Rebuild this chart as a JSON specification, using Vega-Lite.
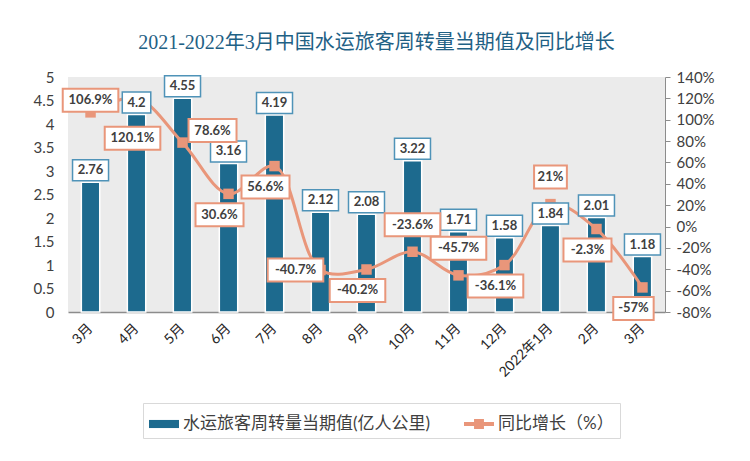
{
  "$schema": "https://vega.github.io/schema/vega-lite/v6.json",
  "width": 597,
  "height": 235,
  "autosize": {"type": "none"},
  "padding": {"left": 68, "top": 77, "right": 85, "bottom": 149},
  "background": "white",
  "title": {
    "text": "2021-2022年3月中国水运旅客周转量当期值及同比增长",
    "font": "Liberation Serif, Noto Sans CJK SC",
    "fontSize": 20,
    "fontWeight": "normal",
    "color": "#1F6185",
    "anchor": "middle",
    "dx": 10,
    "offset": 17
  },
  "data": {
    "values": [
      {"month": "2021年3月", "value": 2.76, "yoy": 106.9},
      {"month": "4月", "value": 4.2, "yoy": 120.1},
      {"month": "5月", "value": 4.55, "yoy": 78.6},
      {"month": "6月", "value": 3.16, "yoy": 30.6},
      {"month": "7月", "value": 4.19, "yoy": 56.6},
      {"month": "8月", "value": 2.12, "yoy": -40.7},
      {"month": "9月", "value": 2.08, "yoy": -40.2},
      {"month": "10月", "value": 3.22, "yoy": -23.6},
      {"month": "11月", "value": 1.71, "yoy": -45.7},
      {"month": "12月", "value": 1.58, "yoy": -36.1},
      {"month": "2022年1月", "value": 1.84, "yoy": 21},
      {"month": "2月", "value": 2.01, "yoy": -2.3},
      {"month": "3月", "value": 1.18, "yoy": -57}
    ]
  },
  "encoding": {
    "x": {
      "field": "month",
      "type": "nominal",
      "sort": null,
      "scale": {"paddingInner": 0.6, "paddingOuter": 0.29},
      "axis": {
        "title": null,
        "labelAngle": -45,
        "labelAlign": "right",
        "labelBaseline": "middle",
        "labelFontSize": 14,
        "labelColor": "#262626",
        "labelPadding": 14,
        "ticks": false,
        "domainColor": "#8c8c8c",
        "domainWidth": 1.5,
        "labelExpr": "datum.value == '2021年3月' ? '3月' : datum.value"
      }
    }
  },
  "layer": [
    {
      "mark": {"type": "bar", "stroke": "white", "strokeWidth": 1.5},
      "encoding": {
        "y": {
          "field": "value",
          "type": "quantitative",
          "scale": {"domain": [0, 5]},
          "axis": {
            "title": null,
            "values": [0, 0.5, 1, 1.5, 2, 2.5, 3, 3.5, 4, 4.5, 5],
            "format": "~g",
            "domain": false,
            "ticks": false,
            "grid": false,
            "labelFontSize": 15,
            "labelColor": "#404040",
            "labelPadding": 14
          }
        },
        "color": {
          "datum": "水运旅客周转量当期值(亿人公里)",
          "type": "nominal",
          "scale": {
            "domain": ["水运旅客周转量当期值(亿人公里)", "同比增长（%）"],
            "range": ["#1D6A8E", "#E9967A"]
          },
          "legend": {
            "orient": "none",
            "legendX": 75,
            "legendY": 326,
            "direction": "horizontal",
            "title": null,
            "symbolSize": 900,
            "symbolStrokeWidth": 0,
            "symbolType": {"expr": "datum.value === '同比增长（%）' ? 'M-1,-0.13H-0.33V-0.33H0.33V-0.13H1V0.13H0.33V0.33H-0.33V0.13H-1Z' : 'M-1,-0.27H1V0.27H-1Z'"},
            "labelFontSize": 17,
            "labelColor": "#404040",
            "labelLimit": 400,
            "columnPadding": 33,
            "strokeColor": "#d9d9d9",
            "padding": 6
          }
        }
      }
    },
    {
      "encoding": {
        "y": {
          "field": "yoy",
          "type": "quantitative",
          "scale": {"domain": [-80, 140]},
          "axis": {
            "orient": "right",
            "title": null,
            "values": [-80, -60, -40, -20, 0, 20, 40, 60, 80, 100, 120, 140],
            "labelExpr": "datum.value + '%'",
            "grid": false,
            "domain": true,
            "domainColor": "#8c8c8c",
            "ticks": true,
            "tickColor": "#8c8c8c",
            "tickSize": 5,
            "labelFontSize": 15,
            "labelColor": "#404040",
            "labelPadding": 6
          }
        }
      },
      "layer": [
        {
          "mark": {"type": "line", "color": "#E9967A", "strokeWidth": 3, "interpolate": "catmull-rom"}
        },
        {
          "mark": {"type": "point", "shape": "square", "filled": true, "color": "#E9967A", "opacity": 1, "size": 110}
        }
      ]
    },
    {
      "encoding": {
        "y": {
          "field": "value",
          "type": "quantitative",
          "scale": {"domain": [0, 5]},
          "axis": null
        }
      },
      "transform": [
        {"calculate": "datum.value + ''", "as": "lbl"},
        {"calculate": "7.5 * length(datum.lbl) + 6", "as": "bw"},
        {"calculate": "datum.bw * datum.bw", "as": "bsz"},
        {"calculate": "'M-1,-' + (21 / datum.bw) + 'H1V' + (21 / datum.bw) + 'H-1Z'", "as": "bshape"}
      ],
      "layer": [
        {
          "mark": {"type": "point", "filled": true, "fill": "white", "stroke": "#4F93B8", "strokeWidth": 1.5, "opacity": 1, "yOffset": -12},
          "encoding": {
            "shape": {"field": "bshape", "type": "nominal", "scale": null},
            "size": {"field": "bsz", "type": "quantitative", "scale": null}
          }
        },
        {
          "mark": {"type": "text", "fontSize": 13, "fontWeight": "bold", "color": "#404040", "yOffset": -12, "baseline": "middle"},
          "encoding": {"text": {"field": "lbl", "type": "nominal"}}
        }
      ]
    },
    {
      "encoding": {
        "y": {
          "field": "yoy",
          "type": "quantitative",
          "scale": {"domain": [-80, 140]},
          "axis": null
        }
      },
      "transform": [
        {"calculate": "datum.yoy + '%'", "as": "lbl"},
        {"calculate": "7.6 * length(datum.lbl) + 10", "as": "bw"},
        {"calculate": "datum.bw * datum.bw", "as": "bsz"},
        {"calculate": "'M-1,-' + (23 / datum.bw) + 'H1V' + (23 / datum.bw) + 'H-1Z'", "as": "bshape"}
      ],
      "layer": [
        {
          "transform": [{"filter": "indexof(['10月', '11月', '2022年1月'], datum.month) >= 0"}],
          "layer": [
            {
              "mark": {"type": "point", "filled": true, "fill": "white", "stroke": "#E9967A", "strokeWidth": 2, "opacity": 1, "yOffset": -27},
              "encoding": {"shape": {"field": "bshape", "type": "nominal", "scale": null}, "size": {"field": "bsz", "type": "quantitative", "scale": null}}
            },
            {
              "mark": {"type": "text", "fontSize": 13, "fontWeight": "bold", "color": "#404040", "yOffset": -27, "baseline": "middle"},
              "encoding": {"text": {"field": "lbl", "type": "nominal"}}
            }
          ]
        },
        {
          "transform": [{"filter": "datum.month == '2021年3月'"}],
          "layer": [
            {
              "mark": {"type": "point", "filled": true, "fill": "white", "stroke": "#E9967A", "strokeWidth": 2, "opacity": 1, "yOffset": -12},
              "encoding": {"shape": {"field": "bshape", "type": "nominal", "scale": null}, "size": {"field": "bsz", "type": "quantitative", "scale": null}}
            },
            {
              "mark": {"type": "text", "fontSize": 13, "fontWeight": "bold", "color": "#404040", "yOffset": -12, "baseline": "middle"},
              "encoding": {"text": {"field": "lbl", "type": "nominal"}}
            }
          ]
        },
        {
          "transform": [{"filter": "datum.month == '5月'"}],
          "layer": [
            {
              "mark": {"type": "point", "filled": true, "fill": "white", "stroke": "#E9967A", "strokeWidth": 2, "opacity": 1, "xOffset": 30, "yOffset": -12},
              "encoding": {"shape": {"field": "bshape", "type": "nominal", "scale": null}, "size": {"field": "bsz", "type": "quantitative", "scale": null}}
            },
            {
              "mark": {"type": "text", "fontSize": 13, "fontWeight": "bold", "color": "#404040", "xOffset": 30, "yOffset": -12, "baseline": "middle"},
              "encoding": {"text": {"field": "lbl", "type": "nominal"}}
            }
          ]
        },
        {
          "transform": [{"filter": "indexof(['6月', '7月', '9月', '12月', '2月', '3月'], datum.month) >= 0"}],
          "layer": [
            {
              "mark": {"type": "point", "filled": true, "fill": "white", "stroke": "#E9967A", "strokeWidth": 2, "opacity": 1, "xOffset": -9, "yOffset": 21},
              "encoding": {"shape": {"field": "bshape", "type": "nominal", "scale": null}, "size": {"field": "bsz", "type": "quantitative", "scale": null}}
            },
            {
              "mark": {"type": "text", "fontSize": 13, "fontWeight": "bold", "color": "#404040", "xOffset": -9, "yOffset": 21, "baseline": "middle"},
              "encoding": {"text": {"field": "lbl", "type": "nominal"}}
            }
          ]
        },
        {
          "transform": [{"filter": "datum.month == '4月'"}],
          "layer": [
            {
              "mark": {"type": "point", "filled": true, "fill": "white", "stroke": "#E9967A", "strokeWidth": 2, "opacity": 1, "xOffset": -4, "yOffset": 40},
              "encoding": {"shape": {"field": "bshape", "type": "nominal", "scale": null}, "size": {"field": "bsz", "type": "quantitative", "scale": null}}
            },
            {
              "mark": {"type": "text", "fontSize": 13, "fontWeight": "bold", "color": "#404040", "xOffset": -4, "yOffset": 40, "baseline": "middle"},
              "encoding": {"text": {"field": "lbl", "type": "nominal"}}
            }
          ]
        },
        {
          "transform": [{"filter": "datum.month == '8月'"}],
          "layer": [
            {
              "mark": {"type": "point", "filled": true, "fill": "white", "stroke": "#E9967A", "strokeWidth": 2, "opacity": 1, "xOffset": -25, "yOffset": 0},
              "encoding": {"shape": {"field": "bshape", "type": "nominal", "scale": null}, "size": {"field": "bsz", "type": "quantitative", "scale": null}}
            },
            {
              "mark": {"type": "text", "fontSize": 13, "fontWeight": "bold", "color": "#404040", "xOffset": -25, "yOffset": 0, "baseline": "middle"},
              "encoding": {"text": {"field": "lbl", "type": "nominal"}}
            }
          ]
        }
      ]
    }
  ],
  "resolve": {"scale": {"y": "independent"}},
  "config": {
    "font": "Lato, Noto Sans CJK SC",
    "view": {"fill": "#ebebeb", "stroke": null}
  }
}
